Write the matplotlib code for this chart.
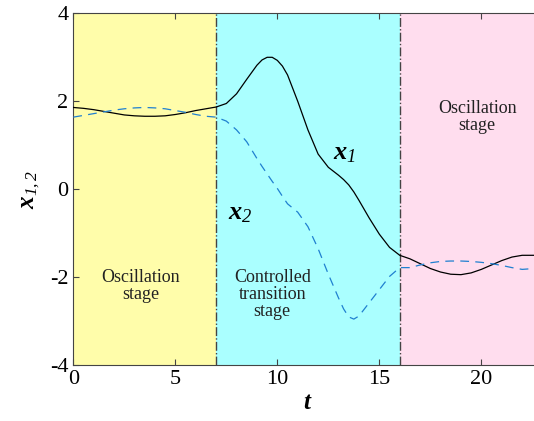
import matplotlib
matplotlib.use("Agg")
import matplotlib.pyplot as plt

# values
t = [0.0, 0.5, 1.0, 1.5, 2.0, 2.5, 3.0, 3.5, 4.0, 4.5, 5.0, 5.5, 6.0, 6.5,
     7.0, 7.5, 8.0, 8.5, 9.0, 9.25, 9.5, 9.75, 10.0, 10.25, 10.5, 11.0, 11.5,
     12.0, 12.5, 13.0, 13.25, 13.5, 13.75, 14.0, 14.5, 15.0, 15.5, 16.0, 16.5,
     17.0, 17.5, 18.0, 18.5, 19.0, 19.5, 20.0, 20.5, 21.0, 21.5, 22.0, 22.6,
     23.0]
x1 = [1.86, 1.84, 1.81, 1.77, 1.73, 1.69, 1.67, 1.66, 1.66, 1.67, 1.70, 1.74,
      1.79, 1.83, 1.87, 1.95, 2.17, 2.50, 2.82, 2.94, 3.00, 3.00, 2.93, 2.80,
      2.60, 2.00, 1.35, 0.80, 0.50, 0.32, 0.22, 0.10, -0.06, -0.25, -0.65,
      -1.02, -1.32, -1.50, -1.58, -1.69, -1.80, -1.88, -1.93, -1.94, -1.90,
      -1.82, -1.72, -1.62, -1.54, -1.50, -1.50, -1.50]
x2 = [1.64, 1.68, 1.72, 1.76, 1.80, 1.83, 1.85, 1.86, 1.85, 1.83, 1.79, 1.75,
      1.70, 1.66, 1.64, 1.55, 1.35, 1.08, 0.70, 0.52, 0.35, 0.18, 0.02, -0.16,
      -0.33, -0.52, -0.85, -1.35, -1.93, -2.47, -2.72, -2.90, -2.95, -2.88,
      -2.58, -2.28, -1.98, -1.78, -1.78, -1.72, -1.67, -1.64, -1.63, -1.63,
      -1.64, -1.66, -1.69, -1.73, -1.78, -1.82, -1.80, -1.78]

# stage boundaries and labels
stage_edges = [0, 7, 16, 23]
stage_colors = ["#FFFDAA", "#AAFFFF", "#FFDDEE"]
stage_texts = ["Oscillation\nstage", "Controlled\ntransition\nstage", "Oscillation\nstage"]
stage_text_pos = [(3.3, -2.2), (9.75, -2.4), (19.8, 1.65)]

plt.rcParams["axes.unicode_minus"] = False
plt.rcParams["font.family"] = "Liberation Serif"
plt.rcParams["mathtext.fontset"] = "custom"
plt.rcParams["mathtext.rm"] = "Liberation Serif"
plt.rcParams["mathtext.it"] = "Liberation Serif:italic"
plt.rcParams["mathtext.cal"] = "Liberation Serif:italic"
plt.rcParams["mathtext.bf"] = "Liberation Serif:bold:italic"

fig = plt.figure(figsize=(5.34, 4.21), dpi=100)
ax = fig.add_axes([0.1373, 0.1323, 0.8787, 0.8361])

# coloured stage backgrounds
for i in range(3):
    ax.axvspan(stage_edges[i], stage_edges[i + 1], color=stage_colors[i], lw=0, zorder=0)
for edge in stage_edges[1:3]:
    ax.axvline(edge, color="#444444", lw=1, ls="-.", zorder=1)

ax.plot(t, x1, color="black", lw=0.9, zorder=3)
ax.plot(t, x2, color="#2080D0", lw=0.9, ls=(0, (7, 5)), zorder=3)

for txt, (tx, ty) in zip(stage_texts, stage_text_pos):
    ax.text(tx, ty, txt, ha="center", va="center", fontsize=13,
            color="#222222", linespacing=1.0)

ax.text(13.3, 0.8, r"$\mathbf{x}_{\mathcal{1}}$", fontsize=19, ha="center", va="center")
ax.text(8.2, -0.55, r"$\mathbf{x}_{\mathcal{2}}$", fontsize=19, ha="center", va="center")

ax.set_xlim(0, 23)
ax.set_ylim(-4, 4)
ax.set_xticks([0, 5, 10, 15, 20])
ax.set_yticks([-4, -2, 0, 2, 4])
ax.tick_params(direction="in", top=True, right=True, labelsize=16, length=4,
               color="#444444")
for sp in ax.spines.values():
    sp.set_color("#444444")

ax.set_xlabel(r"$\mathbf{t}$", fontsize=18, labelpad=2)
ax.set_ylabel(r"$\mathbf{x}_{\mathcal{1,2}}$", fontsize=18, labelpad=6)

fig.savefig("out.png", dpi=100)
